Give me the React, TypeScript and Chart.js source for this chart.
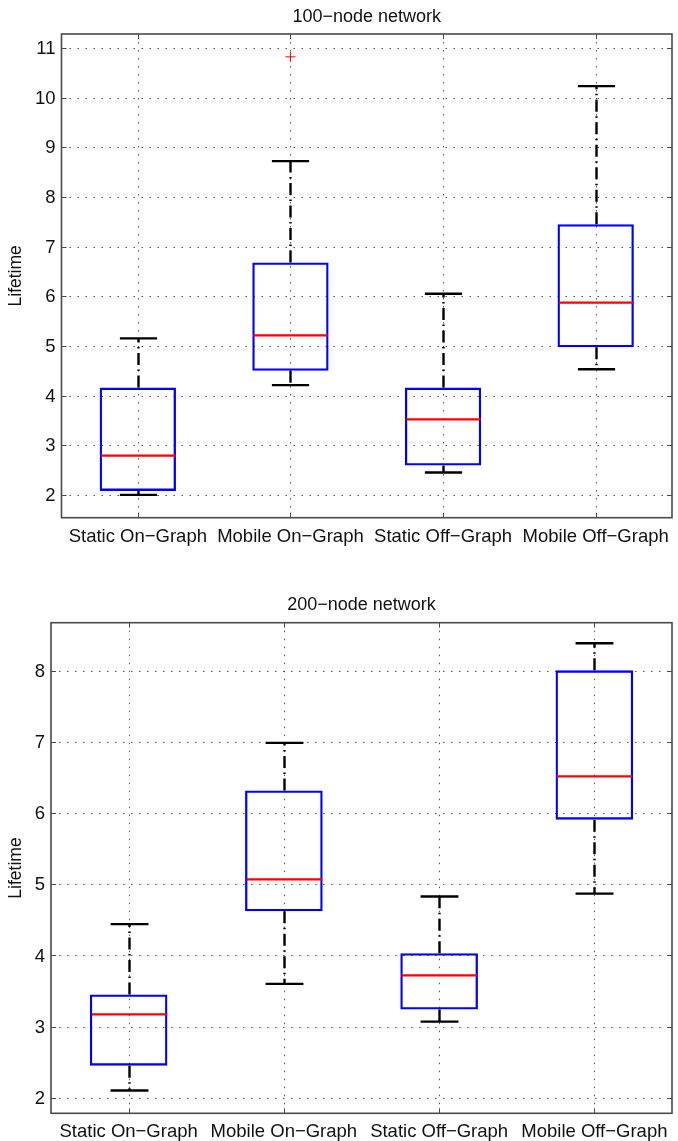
import React, { useEffect, useRef } from 'react';
import { Chart, registerables } from 'chart.js';

Chart.register(...registerables);

// ---------- data ----------
const categories = ['Static On−Graph', 'Mobile On−Graph', 'Static Off−Graph', 'Mobile Off−Graph'];

// 100-node network
const title100 = '100−node network';
const lowWhisker100 = [2.0, 4.21, 2.45, 4.53];
const q1_100 = [2.08, 4.5, 2.59, 4.97];
const median100 = [2.79, 5.21, 3.52, 5.87];
const q3_100 = [4.16, 6.68, 4.16, 7.45];
const highWhisker100 = [5.15, 8.72, 6.05, 10.23];
const outliers100 = [null, 10.82, null, null];
const yTicks100 = [2, 3, 4, 5, 6, 7, 8, 9, 10, 11];
const yRange100 = [1.54, 11.28];

// 200-node network
const title200 = '200−node network';
const lowWhisker200 = [2.1, 3.6, 3.07, 4.87];
const q1_200 = [2.45, 4.62, 3.24, 5.91];
const median200 = [3.17, 5.07, 3.72, 6.52];
const q3_200 = [3.45, 6.32, 4.03, 8.01];
const highWhisker200 = [4.44, 6.99, 4.83, 8.39];
const outliers200 = [null, null, null, null];
const yTicks200 = [2, 3, 4, 5, 6, 7, 8];
const yRange200 = [1.78, 8.68];

const yLabel = 'Lifetime';

// ---------- styles ----------
const FONT = '"Liberation Sans", Arial, Helvetica, sans-serif';
const BLUE = '#0000ff';
const RED = '#ff0000';
const FRAME = '#4a4a4a';
const GRID = '#555555';

type Props = {
  title: string;
  low: number[];
  q1: number[];
  med: number[];
  q3: number[];
  high: number[];
  outliers: (number | null)[];
  yTicks: number[];
  yRange: number[];
  top: number;
  height: number;
  padding: { left: number; top: number; right: number; bottom: number };
  titleBaseline: number;
  labelBaseline: number;
};

function BoxChart(p: Props) {
  const ref = useRef<HTMLCanvasElement | null>(null);

  useEffect(() => {
    const canvas = ref.current;
    if (!canvas) return;

    const plugin = {
      id: 'matlabBoxplot',
      beforeDatasetsDraw(chart: any) {
        const ctx = chart.ctx;
        const a = chart.chartArea;
        const xs = chart.scales.x;
        const ys = chart.scales.y;
        ctx.save();
        ctx.strokeStyle = GRID;
        ctx.lineWidth = 1;
        ctx.setLineDash([1.5, 6.5]);
        p.yTicks.forEach((t) => {
          const y = Math.round(ys.getPixelForValue(t)) + 0.5;
          ctx.beginPath();
          ctx.moveTo(a.left, y);
          ctx.lineTo(a.right, y);
          ctx.stroke();
        });
        categories.forEach((_, i) => {
          const x = Math.round(xs.getPixelForValue(i)) + 0.5;
          ctx.beginPath();
          ctx.moveTo(x, a.top);
          ctx.lineTo(x, a.bottom);
          ctx.stroke();
        });
        ctx.restore();
      },
      afterDatasetsDraw(chart: any) {
        const ctx = chart.ctx;
        const a = chart.chartArea;
        const xs = chart.scales.x;
        const ys = chart.scales.y;
        const cw = xs.getPixelForValue(1) - xs.getPixelForValue(0);
        ctx.save();
        // whiskers
        categories.forEach((_, i) => {
          const x = Math.round(xs.getPixelForValue(i)) + 0.5;
          ctx.strokeStyle = '#000000';
          ctx.lineWidth = 2.4;
          ctx.setLineDash([12, 4.5, 1.5, 4.5]);
          ctx.beginPath();
          ctx.moveTo(x, ys.getPixelForValue(p.q3[i]));
          ctx.lineTo(x, ys.getPixelForValue(p.high[i]));
          ctx.stroke();
          ctx.beginPath();
          ctx.moveTo(x, ys.getPixelForValue(p.q1[i]));
          ctx.lineTo(x, ys.getPixelForValue(p.low[i]));
          ctx.stroke();
          ctx.setLineDash([]);
          const hw = cw * 0.122;
          [p.high[i], p.low[i]].forEach((v) => {
            const y = ys.getPixelForValue(v);
            ctx.beginPath();
            ctx.moveTo(x - hw, y);
            ctx.lineTo(x + hw, y);
            ctx.stroke();
          });
          // median
          ctx.strokeStyle = RED;
          ctx.lineWidth = 2.2;
          const bw = cw * 0.25;
          const ym = ys.getPixelForValue(p.med[i]);
          ctx.beginPath();
          ctx.moveTo(x - bw + 1, ym);
          ctx.lineTo(x + bw - 1, ym);
          ctx.stroke();
        });

        // frame
        ctx.setLineDash([]);
        ctx.strokeStyle = FRAME;
        ctx.lineWidth = 1.6;
        ctx.strokeRect(a.left, a.top, a.right - a.left, a.bottom - a.top);
        // tick marks (inside)
        ctx.lineWidth = 1;
        const tl = 5;
        p.yTicks.forEach((t) => {
          const y = Math.round(ys.getPixelForValue(t)) + 0.5;
          ctx.beginPath();
          ctx.moveTo(a.left, y);
          ctx.lineTo(a.left + tl, y);
          ctx.moveTo(a.right, y);
          ctx.lineTo(a.right - tl, y);
          ctx.stroke();
        });
        categories.forEach((_, i) => {
          const x = Math.round(xs.getPixelForValue(i)) + 0.5;
          ctx.beginPath();
          ctx.moveTo(x, a.bottom);
          ctx.lineTo(x, a.bottom - tl);
          ctx.moveTo(x, a.top);
          ctx.lineTo(x, a.top + tl);
          ctx.stroke();
        });

        // text
        ctx.fillStyle = '#111111';
        ctx.font = `18.5px ${FONT}`;
        ctx.textAlign = 'right';
        ctx.textBaseline = 'middle';
        p.yTicks.forEach((t) => {
          ctx.fillText(String(t), a.left - 6, ys.getPixelForValue(t) + 1);
        });
        ctx.font = `18.5px ${FONT}`;
        ctx.textAlign = 'center';
        ctx.textBaseline = 'alphabetic';
        categories.forEach((c, i) => {
          ctx.fillText(c, xs.getPixelForValue(i), p.labelBaseline);
        });
        ctx.font = `18px ${FONT}`;
        ctx.fillText(p.title, (a.left + a.right) / 2, p.titleBaseline);
        ctx.save();
        ctx.translate(16, (a.top + a.bottom) / 2);
        ctx.rotate(-Math.PI / 2);
        ctx.font = `17.5px ${FONT}`;
        ctx.textAlign = 'center';
        ctx.textBaseline = 'middle';
        ctx.fillText(yLabel, 0, 0);
        ctx.restore();
        ctx.restore();
      },
    };

    const chart = new Chart(canvas, {
      type: 'bar',
      data: {
        labels: categories,
        datasets: [
          {
            type: 'bar',
            data: p.q1.map((v, i) => [v, p.q3[i]]) as any,
            backgroundColor: 'rgba(0,0,0,0)',
            borderColor: BLUE,
            borderWidth: 2.3,
            borderSkipped: false,
            barPercentage: 0.5,
            categoryPercentage: 1,
          } as any,
          {
            type: 'line',
            data: p.outliers as any,
            showLine: false,
            pointStyle: 'cross',
            pointRadius: 5,
            pointBorderColor: RED,
            pointBackgroundColor: RED,
            pointBorderWidth: 1,
            borderColor: RED,
          } as any,
        ],
      },
      options: {
        responsive: false,
        animation: false,
        events: [],
        layout: { padding: p.padding },
        plugins: {
          legend: { display: false },
          tooltip: { enabled: false },
          title: { display: false },
        },
        scales: {
          x: { type: 'category', display: false, offset: true },
          y: { type: 'linear', display: false, min: p.yRange[0], max: p.yRange[1] },
        },
      } as any,
      plugins: [plugin],
    });
    return () => chart.destroy();
  }, []);

  return (
    <canvas
      ref={ref}
      width={678}
      height={p.height}
      style={{ position: 'absolute', left: 0, top: p.top, width: 678, height: p.height }}
    />
  );
}

export default function App() {
  return (
    <div
      style={{
        position: 'absolute',
        left: 0,
        top: 0,
        width: 678,
        height: 1141,
        background: '#ffffff',
        overflow: 'hidden',
      }}
    >
      <BoxChart
        title={title100}
        low={lowWhisker100}
        q1={q1_100}
        med={median100}
        q3={q3_100}
        high={highWhisker100}
        outliers={outliers100}
        yTicks={yTicks100}
        yRange={yRange100}
        top={0}
        height={570}
        padding={{ left: 61.5, top: 34, right: 3, bottom: 52.3 }}
        titleBaseline={21.7}
        labelBaseline={541.7}
      />
      <BoxChart
        title={title200}
        low={lowWhisker200}
        q1={q1_200}
        med={median200}
        q3={q3_200}
        high={highWhisker200}
        outliers={outliers200}
        yTicks={yTicks200}
        yRange={yRange200}
        top={570}
        height={571}
        padding={{ left: 51, top: 52.7, right: 3.7, bottom: 27.7 }}
        titleBaseline={39.5}
        labelBaseline={566.7}
      />
    </div>
  );
}
